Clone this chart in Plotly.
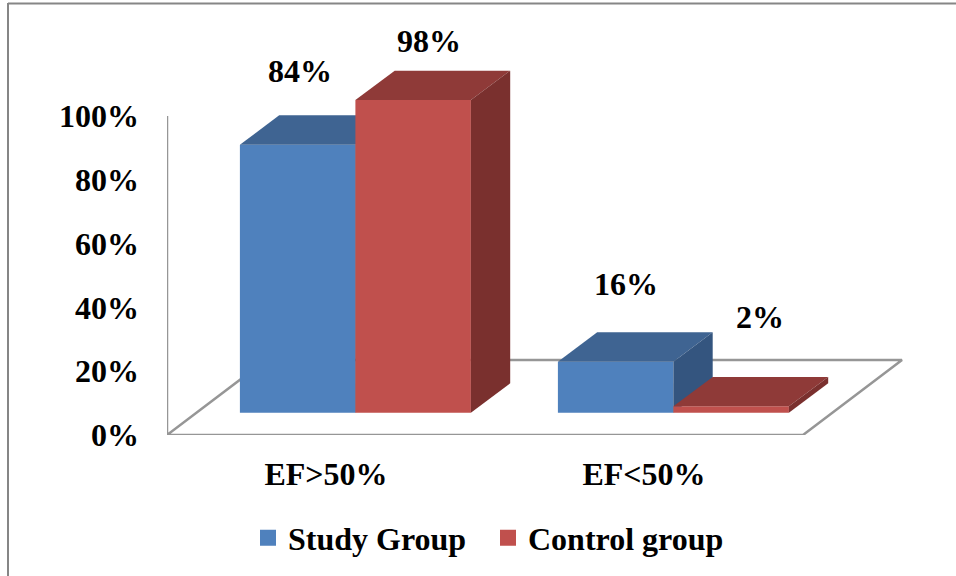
import plotly.graph_objects as go

# ---- data ----
categories = ["EF>50%", "EF<50%"]
study_group = [84, 16]
control_group = [98, 2]
y_ticks = [0, 20, 40, 60, 80, 100]

# ---- pixel geometry of the figure ----
W, H = 956, 576
L, R, T, B = 167, 925, 20, 435     # plot area in pixels
PX_X = 318.0                       # pixels per category
PX_Y = 3.19                        # pixels per percent
BAR_W = 115.5 / PX_X
SHIFT_X = 29.4 / PX_X              # bars stand inside the floor
BASE = 22.3 / PX_Y
BAR_DX = 39.3 / PX_X               # bar depth
BAR_DY = 29.4 / PX_Y
FLOOR_DX = 99.0 / PX_X             # floor depth
FLOOR_DY = 75.0 / PX_Y
X_RANGE = [-0.5, -0.5 + (R - L) / PX_X]
Y_RANGE = [0, (B - T) / PX_Y]

FONT = "Liberation Serif"
FS = 32
GRAY = "#969696"

palette = {
    "Study Group": ("#4F81BD", "#3F6492", "#34557F"),
    "Control group": ("#C0504D", "#8F3A38", "#7A302E"),
}


def faces(values, offset, axis_suffix, colors):
    """Front face as a real bar, top and side faces derived from the same values."""
    front, top, side = colors
    xs = [i + SHIFT_X + offset for i in range(len(values))]
    out = [go.Bar(x=xs, y=values, base=[BASE] * len(values), width=BAR_W,
                  marker=dict(color=front, line=dict(width=0)),
                  xaxis="x" + axis_suffix, yaxis="y" + axis_suffix,
                  showlegend=False, hoverinfo="skip")]
    for x, v in zip(xs, values):
        x0, x1, y0, y1 = x - BAR_W / 2, x + BAR_W / 2, BASE, BASE + v
        out.append(go.Scatter(
            x=[x0, x0 + BAR_DX, x1 + BAR_DX, x1, x0],
            y=[y1, y1 + BAR_DY, y1 + BAR_DY, y1, y1],
            mode="lines", fill="toself", fillcolor=top, line=dict(width=0),
            xaxis="x" + axis_suffix, yaxis="y" + axis_suffix,
            showlegend=False, hoverinfo="skip", cliponaxis=False))
        out.append(go.Scatter(
            x=[x1, x1 + BAR_DX, x1 + BAR_DX, x1, x1],
            y=[y1, y1 + BAR_DY, y0 + BAR_DY, y0, y1],
            mode="lines", fill="toself", fillcolor=side, line=dict(width=0),
            xaxis="x" + axis_suffix, yaxis="y" + axis_suffix,
            showlegend=False, hoverinfo="skip", cliponaxis=False))
    return out


fig = go.Figure()

# wall line and floor outline
fig.add_trace(go.Scatter(
    x=[-0.5, -0.5, 1.5, 1.5 + FLOOR_DX, -0.5 + FLOOR_DX, -0.5],
    y=[100, 0, 0, FLOOR_DY, FLOOR_DY, 0],
    mode="lines", line=dict(color=GRAY, width=2.5),
    showlegend=False, hoverinfo="skip", cliponaxis=False))

for tr in faces(study_group, -BAR_W / 2, "2", palette["Study Group"]):
    fig.add_trace(tr)
for tr in faces(control_group, BAR_W / 2, "3", palette["Control group"]):
    fig.add_trace(tr)

# legend entries
for name in palette:
    fig.add_trace(go.Scatter(
        x=[None], y=[None], mode="markers", name=name,
        marker=dict(symbol="square", size=16, color=palette[name][0])))

# data labels (hand-placed in the original)
label_shift = [(2.5, 74), (16, 59), (10.5, 78), (28.5, 89)]
label_items = [
    (0 + SHIFT_X - BAR_W / 2, study_group[0]),
    (0 + SHIFT_X + BAR_W / 2, control_group[0]),
    (1 + SHIFT_X - BAR_W / 2, study_group[1]),
    (1 + SHIFT_X + BAR_W / 2, control_group[1]),
]
annotations = [
    dict(x=x, y=BASE + v, xref="x", yref="y", text=f"<b>{v}%</b>", showarrow=False,
         xshift=sx, yshift=sy, font=dict(family=FONT, size=FS, color="black"))
    for (x, v), (sx, sy) in zip(label_items, label_shift)
]


def px(x):
    return (x - L) / (R - L)


def py(y):
    return (B - y) / (B - T)


# frame of the source picture
shapes = [
    dict(type="line", xref="paper", yref="paper", x0=px(8), x1=px(8), y0=py(3), y1=py(H + 5),
         line=dict(color="#868686", width=2)),
    dict(type="line", xref="paper", yref="paper", x0=px(8), x1=px(W + 5), y0=py(3.5), y1=py(3.5),
         line=dict(color="#868686", width=2)),
]

axis_common = dict(range=X_RANGE, fixedrange=True, showgrid=False, zeroline=False)
fig.update_layout(
    width=W, height=H,
    margin=dict(l=L, r=W - R, t=T, b=H - B, autoexpand=False),
    paper_bgcolor="white", plot_bgcolor="rgba(0,0,0,0)",
    font=dict(family=FONT, size=FS, color="black"),
    barmode="overlay",
    shapes=shapes,
    annotations=annotations,
    xaxis=dict(**axis_common, tickmode="array", tickvals=list(range(len(categories))),
               ticktext=[f"<b>{c}</b>" for c in categories],
               showline=False, ticks="", ticklabelstandoff=17,
               tickfont=dict(family=FONT, size=FS, color="black")),
    xaxis2=dict(**axis_common, overlaying="x", visible=False),
    xaxis3=dict(**axis_common, overlaying="x", visible=False),
    yaxis=dict(range=Y_RANGE, fixedrange=True, showgrid=False, zeroline=False, showline=False,
               tickmode="array", tickvals=y_ticks,
               ticktext=[f"<b>{t}%</b>" for t in y_ticks],
               ticks="", ticklabelstandoff=27,
               tickfont=dict(family=FONT, size=FS, color="black")),
    yaxis2=dict(range=Y_RANGE, fixedrange=True, overlaying="y", visible=False),
    yaxis3=dict(range=Y_RANGE, fixedrange=True, overlaying="y", visible=False),
    legend=dict(orientation="h", xanchor="left", yanchor="middle",
                x=px(248), y=py(538), bgcolor="rgba(0,0,0,0)",
                entrywidth=195, entrywidthmode="pixels",
                font=dict(family=FONT, size=FS, color="black"),
                itemclick=False, itemdoubleclick=False),
)
fig.for_each_trace(lambda t: t.update(name=f"<b>{t.name}</b>") if t.name else None)

fig.write_html("out.html", config={"displayModeBar": False},
               post_script="document.body.style.margin='0';")
